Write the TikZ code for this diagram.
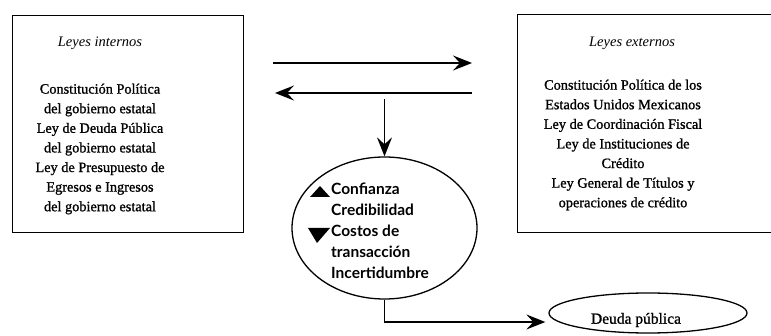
\documentclass[tikz,border=0pt]{standalone}
\usepackage{fontspec}
\setmainfont{Liberation Serif}[AutoFakeBold=1.1]
\newfontfamily\humsans{Lato}
\usetikzlibrary{arrows.meta,shapes.geometric,calc}

\tikzset{
  lawbox/.style={draw, line width=1.4pt, rectangle, inner sep=0pt, anchor=north west},
  lawtitle/.style={font=\fontsize{14.5}{19.6}\selectfont\bfseries\itshape, inner sep=0pt},
  lawlist/.style={font=\fontsize{14.3}{19.6}\selectfont\bfseries, align=center, inner sep=0pt},
  oval/.style={draw, line width=1.3pt, ellipse, inner sep=0pt},
  link/.style={line width=1.3pt, -{Stealth[length=19pt, width=15pt, inset=7pt]}},
  marker/.style={fill=black},
}

\begin{document}
\begin{tikzpicture}[x=1pt, y=-1pt]
\useasboundingbox (0,0) rectangle (771,336);
\clip (0,0) rectangle (771,336);

% the two groups of laws
\node[lawbox, minimum width=231pt, minimum height=217pt] (intbox) at (12,15) {};
\node[lawbox, minimum width=290pt, minimum height=218pt] (extbox) at (517,14) {};

\node[lawtitle] (inttitle) at (100,43) {Leyes internos};
\node[lawlist] (intlist) at (100,149) {Constitución Política\\del gobierno estatal\\Ley de Deuda Pública\\del gobierno estatal\\Ley de Presupuesto de\\Egresos e Ingresos\\del gobierno estatal};

\node[lawtitle] (exttitle) at (632,43) {Leyes externos};
\node[lawlist] (extlist) at (623,145) {Constitución Política de los\\Estados Unidos Mexicanos\\Ley de Coordinación Fiscal\\Ley de Instituciones de\\Crédito\\Ley General de Títulos y\\operaciones de crédito};

% exchange between the two groups
\coordinate (toext0) at (273,63);
\coordinate (toext1) at (472,63);
\coordinate (toint0) at (472,93);
\coordinate (toint1) at (275,93);
\draw[link] (toext0) -- (toext1);
\draw[link] (toint0) -- (toint1);

% effects
\node[oval, minimum width=185pt, minimum height=142pt] (conf) at (384.5,228) {};
\node[font=\humsans\bfseries\fontsize{15.5}{21}\selectfont, align=left, inner sep=0pt, anchor=north west] (conftext) at (331,183)
  {Confianza\\Credibilidad\\Costos de\\transacción\\Incertidumbre};
\fill[marker] (310,197) -- (330,197) -- (320,186) -- cycle;
\fill[marker] (308,228) -- (330,228) -- (317,243) -- cycle;

\draw[link] ($(conf.north)+(0,-57)$) -- (conf.north);

% result
\node[oval, minimum width=198pt, minimum height=40pt] (deuda) at (648,313) {};
\node[font=\fontsize{15.5}{19}\selectfont\bfseries, inner sep=0pt] (deudatext) at (636,320) {Deuda pública};

\draw[link] (conf.south) |- ($(deuda.west)+(-3,9)$);
\end{tikzpicture}
\end{document}
